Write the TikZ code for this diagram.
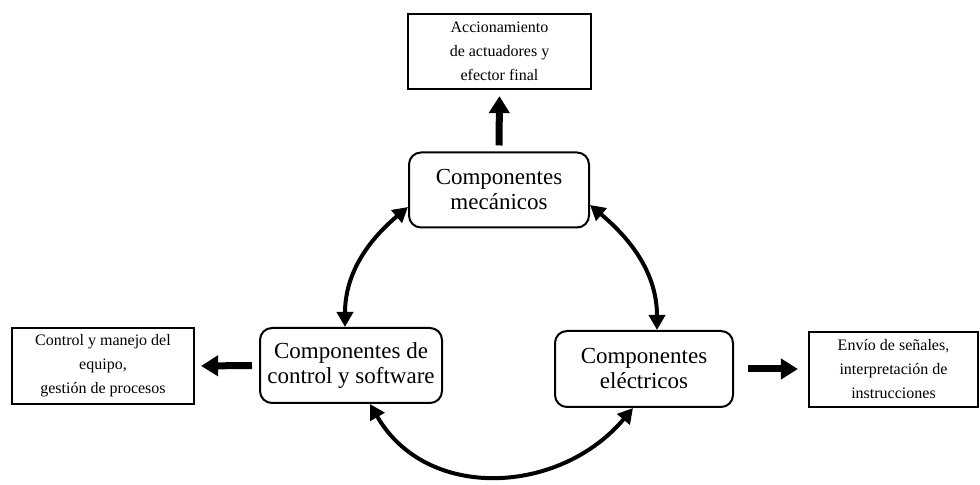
\documentclass[tikz,border=0pt]{standalone}
\usepackage{fontspec}
\setmainfont{Liberation Serif}
\usetikzlibrary{arrows.meta}
\begin{document}
\begin{tikzpicture}[x=0.5pt,y=0.5pt,
  comp/.style={draw, line width=1pt, rounded corners=6pt, align=center,
    inner sep=0pt, font=\fontsize{11.5}{12.5}\selectfont},
  note/.style={draw, line width=1.1pt, align=center, inner sep=0pt,
    font=\fontsize{8}{12}\selectfont},
  link/.style={line width=2pt, {Triangle[length=7.5pt,width=8pt]}-{Triangle[length=7.5pt,width=8pt]}},
  push/.style={line width=3.5pt, -{Triangle[length=8.5pt,width=10pt]}}]
\useasboundingbox (0,0) rectangle (980,485);

% component blocks
\node[comp, minimum width=90pt, minimum height=37.5pt] (mech) at (499,295) {Componentes\\mecánicos};
\node[comp, minimum width=91pt, minimum height=37.5pt] (ctrl) at (351,119.5) {Componentes de\\control y software};
\node[comp, minimum width=89pt, minimum height=38pt] (elec) at (644,116) {Componentes\\eléctricos};

% function descriptions
\node[note, minimum width=91.5pt, minimum height=37.5pt] (act) at (499.5,433.5) {Accionamiento\\de actuadores y\\efector final};
\node[note, minimum width=91pt, minimum height=38pt] (lbox) at (103,119) {Control y manejo del\\equipo,\\gestión de procesos};
\node[note, minimum width=84.5pt, minimum height=37.5pt] (rbox) at (893.5,115.5) {Envío de señales,\\interpretación de\\instrucciones};

% outputs of each block
\draw[push, shorten <=3pt, shorten >=3pt] (mech.north) -- (act.south);
\draw[push, shorten <=3.5pt, shorten >=3pt] (ctrl.west) -- (lbox.east);
\draw[push, shorten <=7pt, shorten >=5pt] (elec.east) -- (rbox.west |- elec.east);

% interaction cycle
\draw[link] ([xshift=-3pt]ctrl.north) to[out=90,in=220] ([yshift=-8.5pt]mech.west);
\draw[link] ([yshift=-7.5pt]mech.east) to[out=-40,in=90] ([xshift=6.5pt]elec.north);
\draw[link] ([xshift=9.5pt]ctrl.south) to[out=-60,in=-130,looseness=1.1] ([xshift=-5.5pt]elec.south);
\end{tikzpicture}
\end{document}
